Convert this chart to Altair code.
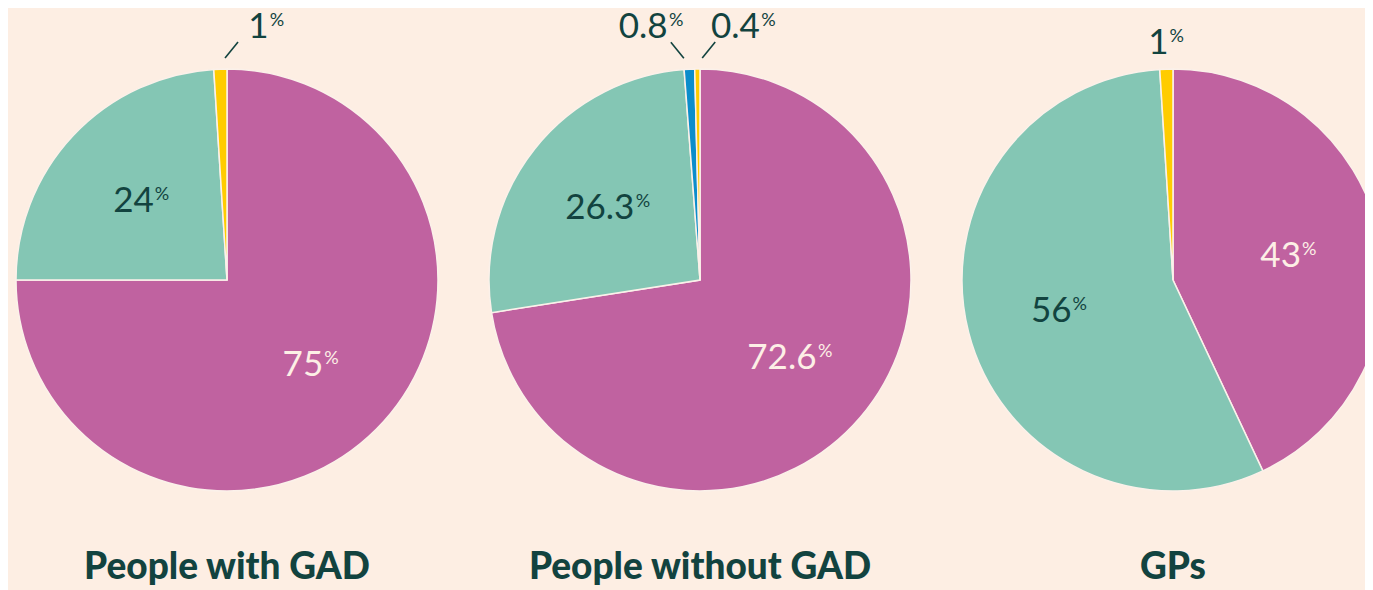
import math
import altair as alt
import pandas as pd

# ---------------- data ----------------
groups = ["People with GAD", "People without GAD", "GPs"]
categories = ["Response A", "Response B", "Response C", "Response D"]
with_gad = [75, 24, 0, 1]
without_gad = [72.6, 26.3, 0.8, 0.4]
gps = [43, 56, 0, 1]
series = [with_gad, without_gad, gps]

# ---------------- style / layout ----------------
colors = ["#C062A0", "#84C6B4", "#0C8DCB", "#FFCC00"]
BG = "#FDEEE3"
DARK = "#12433F"
CREAM = "#FDEFE6"
FONT = "Lato"
W, H = 1357, 582
CX0, STEP, CY, R = 219, 473, 272, 211
R_IN, R_LEAD, R_OUT = 118, 222, 226
NUM_FS, PCT_FS = 35, 18
DIGIT_EM, DOT_EM, PCT_EM = 0.58, 0.25, 0.78
GAP = 1
TITLE_Y = 571
# which side of the pie the leader line for a tiny slice points to (annotation layout)
leader_side = {("People with GAD", "Response D"): 1,
               ("People without GAD", "Response C"): -1,
               ("People without GAD", "Response D"): 1}

rows = []
for gi, (g, vals) in enumerate(zip(groups, series)):
    for ci, v in enumerate(vals):
        if v > 0:
            rows.append(dict(group=g, gi=gi, cat=categories[ci], order=ci, value=v,
                             side=leader_side.get((g, categories[ci]), 0)))
df = pd.DataFrame(rows)

XS = alt.Scale(domain=[0, W], range=[0, W], nice=False, zero=False)
YS = alt.Scale(domain=[0, H], range=[0, H], nice=False, zero=False)

DH = 0.72 * NUM_FS
PCT_W = PCT_EM * PCT_FS

base = alt.Chart().transform_stack(
    stack="value", groupby=["group"], as_=["s0", "s1"],
    sort=[alt.SortField("order", order="ascending")], offset="normalize"
).transform_calculate(
    ang="PI*(datum.s0+datum.s1)",
    cx=f"{CX0}+{STEP}*datum.gi",
    cy=f"{CY}",
    label="'' + datum.value",
    inner="datum.value >= 5 ? 1 : 0",
    light="(datum.value >= 5 && datum.order == 0) ? 1 : 0",
).transform_calculate(
    ndig="length(replace(datum.label, '.', ''))",
    sx=f"datum.cx + {R_LEAD}*sin(datum.ang) + 5*datum.side",
    sy=f"datum.cy - {R_LEAD}*cos(datum.ang)",
).transform_calculate(
    ndot="length(datum.label) - datum.ndig",
    ex="datum.sx + 13*datum.side",
    ey="datum.sy - 16",
).transform_calculate(
    numw=f"{NUM_FS}*({DIGIT_EM}*datum.ndig + {DOT_EM}*datum.ndot)",
    lx=(f"datum.inner == 1 ? datum.cx + {R_IN}*sin(datum.ang) : "
        f"(datum.side != 0 ? datum.ex + 24*datum.side + 4 : datum.cx + {R_OUT}*sin(datum.ang))"),
    lby=(f"datum.inner == 1 ? datum.cy - {R_IN}*cos(datum.ang) + {DH/2} : "
         f"(datum.side != 0 ? datum.ey - 4 : datum.cy - {R_OUT}*cos(datum.ang))"),
).transform_calculate(
    num_x=f"datum.lx - (datum.numw + {GAP} + {PCT_W})/2",
).transform_calculate(
    pct_x=f"datum.num_x + datum.numw + {GAP}",
    pct_y=f"datum.lby - {DH} + {0.72*PCT_FS}",
)

arcs = base.mark_arc(outerRadius=R, stroke="#FBF1EA", strokeWidth=1.5).encode(
    x=alt.X("cx:Q", scale=XS, axis=None),
    y=alt.Y("cy:Q", scale=YS, axis=None),
    theta=alt.Theta("s0:Q", scale=alt.Scale(domain=[0, 1], range=[0, 2 * math.pi]), stack=None),
    theta2="s1:Q",
    color=alt.Color("cat:N", scale=alt.Scale(domain=categories, range=colors), legend=None),
)

leaders = base.transform_filter("datum.side != 0").mark_rule(
    stroke=DARK, strokeWidth=1.6).encode(
    x=alt.X("sx:Q", scale=XS, axis=None), x2="ex:Q",
    y=alt.Y("sy:Q", scale=YS, axis=None), y2="ey:Q",
)

txt_color = alt.condition(alt.datum.light == 1, alt.value(CREAM), alt.value(DARK))

nums = base.mark_text(font=FONT, fontSize=NUM_FS, align="left", baseline="alphabetic").encode(
    x=alt.X("num_x:Q", scale=XS, axis=None),
    y=alt.Y("lby:Q", scale=YS, axis=None),
    text="label:N",
    color=txt_color,
)

pcts = base.mark_text(font=FONT, fontSize=PCT_FS, align="left", baseline="alphabetic").encode(
    x=alt.X("pct_x:Q", scale=XS, axis=None),
    y=alt.Y("pct_y:Q", scale=YS, axis=None),
    text=alt.value("%"),
    color=txt_color,
)

titles = base.transform_filter("datum.order == 0").mark_text(
    font=FONT, fontSize=37, fontWeight=900, align="center", baseline="alphabetic", color=DARK
).encode(
    x=alt.X("cx:Q", scale=XS, axis=None),
    y=alt.value(TITLE_Y),
    text="group:N",
)

chart = alt.layer(arcs, leaders, nums, pcts, titles, data=df).properties(
    width=W, height=H, padding=0,
    autosize=alt.AutoSizeParams(type="none"),
    background=BG,
).configure_view(stroke=None)

chart.save("out.html", embed_options={"renderer": "svg", "actions": False})
